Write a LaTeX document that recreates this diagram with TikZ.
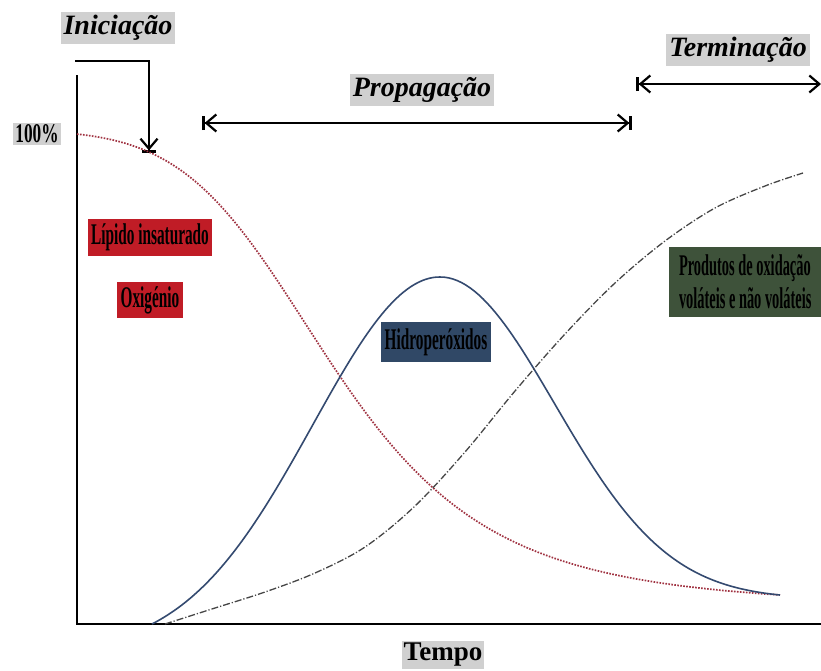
\documentclass[tikz,border=0pt]{standalone}
\usepackage{fontspec}
\setmainfont{Liberation Serif}
\usepackage{graphicx}
\usetikzlibrary{arrows.meta}
\definecolor{lipred}{RGB}{192,28,38}
\definecolor{hydblue}{RGB}{48,72,102}
\definecolor{prodgreen}{RGB}{62,82,58}
\definecolor{curvered}{RGB}{160,50,65}
\definecolor{curveblue}{RGB}{52,74,112}
\definecolor{curvegray}{RGB}{70,70,70}
\definecolor{halftone}{RGB}{208,208,208}
\newcommand{\cond}[1]{\scalebox{0.51}[1]{#1}}
\newcommand{\condb}[1]{\scalebox{0.48}[1]{#1}}
\newcommand{\condp}[1]{\scalebox{0.64}[1]{#1}}
\tikzset{
  phaselabel/.style={fill=halftone, inner sep=3pt, font=\fontsize{28}{30}\selectfont\bfseries\itshape},
  axislabel/.style={fill=halftone, inner sep=2pt, font=\fontsize{27}{29}\selectfont\bfseries},
  boxlabel/.style={inner sep=0pt, font=\fontsize{30}{32}\selectfont\bfseries, text=black, align=center},
  axisline/.style={line width=2.4pt, black},
  phasearrow/.style={line width=2.6pt, black},
  barb/.tip={Straight Barb[length=10pt,width=17pt,line width=2.2pt]},
  tbar/.tip={Bar[width=14pt,line width=2.6pt]},
  lipcurve/.style={curvered, line width=1.7pt, dash pattern=on 1.6pt off 1.4pt},
  hydcurve/.style={curveblue, line width=1.6pt},
  prodcurve/.style={curvegray, line width=1.3pt, dash pattern=on 7pt off 2pt on 1.2pt off 2pt}
}
\begin{document}
\begin{tikzpicture}[x=1pt,y=-1pt]
\useasboundingbox (0,0) rectangle (821,670);
\fill[white] (0,0) rectangle (821,670);

% axes
\coordinate (ytop) at (77,75);
\coordinate (origin) at (77,624);
\coordinate (xend) at (821,624);
\draw[axisline] (ytop) -- (origin) -- (xend);

% labels
\node[phaselabel] (ini) at (118,28) {Iniciação};
\node[phaselabel] (prop) at (422,90) {Propagação};
\node[phaselabel] (term) at (738,50) {Terminação};
\node[axislabel] (pct) at (37,134) {\condp{100\%}};
\node[axislabel] (tempo) at (443,655) {Tempo};

% initiation bracket arrow
\coordinate (i0) at (75,61);
\coordinate (i1) at (149,61);
\coordinate (i2) at (149,153);
\draw[phasearrow, -{barb[]tbar[]}] (i0) -- (i1) -- (i2);

% propagation arrow
\coordinate (p0) at (202,123);
\coordinate (p1) at (632,123);
\draw[phasearrow, {tbar[]barb[]}-{barb[]tbar[]}] (p0) -- (p1);

% termination arrow
\coordinate (t0) at (636,84);
\coordinate (t1) at (821,84);
\draw[phasearrow, {tbar[]barb[]}-{barb[]}] (t0) -- (t1);

% curves
% unsaturated lipid / oxygen (decreasing)
\draw[lipcurve] plot[domain=77:780, samples=120]
  (\x, {130 + 478/(1+exp(-(\x-335)/(80+0.1*(\x-335))))});
% hydroperoxides (bell)
\draw[hydcurve] plot[domain=152:440, samples=80]
  (\x, {624 - 347*(exp(-((\x-440)/180)*((\x-440)/180)) - 0.0773)/0.9227})
  -- plot[domain=440:780, samples=80]
  (\x, {595 - 318*(exp(-((\x-440)/162)*((\x-440)/162)) - 0.0122)/0.9878});
% oxidation products (increasing)
\draw[prodcurve] plot[smooth, tension=0.55] coordinates {(165,624) (215,608) (265,592) (315,573) (365,547) (415,506) (465,452) (515,391) (565,334) (615,283) (665,241) (715,208) (765,186) (803,173)};

% species labels
\node[boxlabel, fill=lipred, minimum width=124pt, minimum height=37pt] (lip) at (150,237) {\cond{Lípido insaturado}};
\node[boxlabel, fill=lipred, minimum width=66pt, minimum height=36pt] (oxi) at (150,300) {\cond{Oxigénio}};
\node[boxlabel, fill=hydblue, minimum width=110pt, minimum height=40pt] (hyd) at (436,342) {\cond{Hidroperóxidos}};
\node[boxlabel, fill=prodgreen, minimum width=152pt, minimum height=70pt, inner sep=3pt, anchor=west, align=left] (prod) at (669,282) {\condb{Produtos de oxidação}\\[1pt]\condb{voláteis e não voláteis}};
\end{tikzpicture}
\end{document}
